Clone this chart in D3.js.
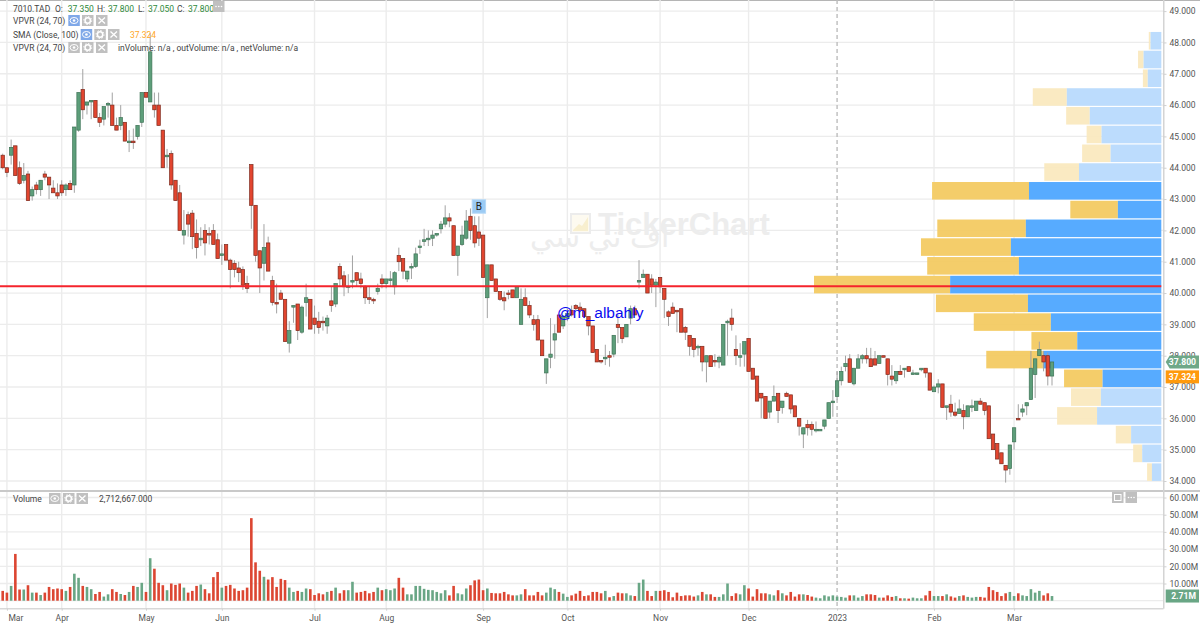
<!DOCTYPE html>
<html><head><meta charset="utf-8">
<style>html,body{margin:0;padding:0;background:#fff}svg{display:block}text{font-family:Roboto,sans-serif}</style>
<script src="https://cdn.jsdelivr.net/npm/d3@7"></script></head><body><div id="c"></div>
<script>
// [open, high, low, close]
const candles=[[44.4,44.45,43.95,44.0],[44.0,44.0,43.7,43.85],[44.4,44.9,44.1,44.65],[44.7,44.7,43.75,43.75],[44.0,44.2,43.45,43.5],[43.6,44.15,43.5,43.75],[43.8,43.9,42.95,42.95],[43.1,43.4,42.95,43.3],[43.45,43.55,43.15,43.3],[43.3,43.6,43.1,43.6],
[43.8,43.9,43.6,43.7],[43.7,43.7,43.0,43.45],[43.35,43.6,43.2,43.2],[43.2,43.5,43.0,43.1],[43.45,43.6,43.1,43.2],[43.3,43.5,43.1,43.45],[43.5,43.6,43.3,43.3],[43.45,45.3,43.2,45.3],[45.2,46.4,45.15,46.4],[46.5,47.15,45.55,45.85],
[46.0,46.1,45.7,46.1],[46.1,46.15,45.55,46.15],[46.15,46.15,45.6,45.6],[45.6,45.75,45.3,45.45],[45.55,45.95,45.35,45.95],[46.0,46.1,45.6,46.05],[46.0,46.4,45.35,45.35],[45.35,45.6,45.2,45.2],[45.35,46.0,45.2,45.6],[45.45,45.45,44.85,44.85],
[44.8,45.2,44.5,44.85],[44.85,45.25,44.6,44.8],[45.0,45.35,44.9,45.35],[45.45,46.4,45.3,46.4],[46.4,46.4,46.25,46.25],[46.1,48.3,46.1,47.7],[46.0,46.4,45.6,45.85],[46.0,46.4,45.35,45.35],[45.2,45.2,44.0,44.0],[44.35,44.6,44.0,44.4],
[44.45,44.55,43.3,43.45],[43.6,43.6,42.95,42.95],[43.2,43.45,42.0,42.0],[41.85,42.65,41.55,42.0],[42.5,42.6,41.8,42.2],[42.55,42.65,41.4,41.8],[41.9,42.35,41.1,41.45],[41.7,42.1,41.5,41.75],[42.0,42.2,41.2,41.6],[41.9,42.1,41.55,41.85],
[42.0,42.2,41.55,41.55],[41.7,41.9,41.1,41.1],[41.2,41.55,40.9,41.25],[41.55,41.55,41.05,41.05],[41.05,41.1,40.15,40.75],[40.95,41.05,40.5,40.75],[40.8,41.0,40.35,40.65],[40.75,40.85,40.1,40.25],[40.3,40.55,40.0,40.15],[44.1,44.1,42.05,42.8],
[42.8,42.8,41.0,41.2],[41.35,41.35,40.0,40.8],[40.95,42.2,40.4,41.45],[41.6,41.8,40.7,40.7],[40.4,40.55,39.6,39.7],[39.7,40.3,39.35,39.65],[40.0,40.1,39.8,39.8],[39.8,39.8,38.45,38.45],[38.4,39.1,38.1,38.8],[39.55,39.6,39.05,39.6],
[39.65,39.65,38.5,38.8],[38.75,39.6,38.7,39.55],[39.7,40.3,39.25,39.85],[39.8,39.8,38.85,38.85],[39.2,39.6,38.7,39.0],[39.1,39.4,38.7,38.9],[39.1,39.25,38.8,39.05],[38.95,39.3,38.7,39.2],[39.75,40.2,39.4,39.6],[39.65,40.3,39.55,40.3],
[40.85,40.95,40.2,40.45],[40.55,40.7,39.9,40.2],[40.2,40.6,40.0,40.2],[40.35,41.2,40.15,40.4],[40.65,40.65,40.2,40.4],[40.45,40.65,40.15,40.3],[40.2,40.25,39.65,39.85],[39.85,40.2,39.65,39.8],[39.8,39.85,39.65,39.75],[40.05,40.3,39.95,40.15],
[40.45,40.6,40.15,40.3],[40.3,40.45,40.15,40.45],[40.4,40.7,40.2,40.45],[40.2,40.7,39.95,40.65],[41.2,41.45,40.7,41.0],[41.1,41.1,40.45,40.7],[40.45,40.7,40.35,40.7],[40.8,40.95,40.45,40.85],[40.85,41.45,40.8,41.25],[41.45,41.7,41.25,41.5],
[41.65,42.05,41.5,41.7],[41.7,42.0,41.5,41.75],[41.75,42.0,41.5,41.85],[41.85,41.9,41.8,41.9],[42.05,42.3,41.9,42.2],[42.2,42.8,42.1,42.4],[42.4,42.55,42.1,42.3],[42.15,42.15,41.2,41.2],[41.2,41.5,40.55,41.5],[41.55,42.15,41.5,41.85],
[41.75,42.65,41.7,42.3],[42.45,42.7,41.7,42.0],[42.15,42.45,41.45,41.6],[41.95,42.45,41.5,41.75],[41.85,41.85,40.5,40.5],[39.85,40.9,39.2,40.9],[40.9,40.9,40.4,40.4],[40.45,40.45,40.05,40.05],[40.05,40.05,39.75,39.8],[39.85,40.05,39.45,39.75],
[40.0,40.1,39.8,39.95],[40.1,40.1,39.85,39.85],[39.85,40.2,39.85,40.2],[39.0,40.15,39.0,39.8],[39.85,40.15,39.6,39.6],[39.6,39.75,39.2,39.3],[39.15,39.3,38.8,39.0],[39.15,39.3,38.5,38.5],[38.5,38.5,38.0,38.0],[37.45,37.9,37.1,37.9],
[37.95,39.2,37.6,38.05],[38.5,39.0,37.9,38.7],[39.3,39.3,38.75,38.75],[38.95,39.3,38.85,39.25],[39.2,39.5,39.1,39.35],[39.45,39.6,39.25,39.3],[39.6,39.65,39.45,39.5],[39.55,39.7,39.4,39.45],[39.5,39.5,39.2,39.25],[39.25,39.25,38.65,38.95],
[38.95,38.95,38.1,38.1],[38.2,38.2,37.8,37.8],[37.85,37.85,37.75,37.8],[37.9,38.35,37.7,37.95],[38.0,38.15,37.65,37.95],[38.05,38.65,37.95,38.65],[39.0,39.3,38.4,38.9],[38.9,38.9,38.4,38.55],[38.6,39.0,38.6,39.0],[39.2,39.6,39.0,39.5],
[39.5,39.6,39.3,39.3],[40.35,41.05,40.15,40.4],[40.5,40.75,40.5,40.6],[40.6,40.6,40.0,40.0],[40.45,40.6,40.0,40.25],[40.25,40.45,39.55,40.35],[40.5,40.5,40.0,40.2],[40.15,40.15,39.2,39.8],[39.4,39.45,38.95,39.25],[39.55,39.7,39.35,39.35],
[39.45,39.45,38.75,39.4],[39.5,39.5,38.75,38.75],[38.9,38.95,38.5,38.75],[38.65,38.65,38.0,38.3],[38.55,38.55,37.95,38.2],[38.25,38.35,38.0,38.3],[38.3,38.3,37.5,37.8],[37.8,38.0,37.15,38.0],[38.0,38.0,37.65,37.65],[37.85,38.05,37.65,37.8],
[37.8,38.0,37.6,37.95],[37.7,39.0,37.7,39.0],[39.05,39.15,38.0,39.1],[39.2,39.5,38.8,39.0],[38.2,38.65,37.7,38.0],[37.95,38.4,37.65,38.0],[38.05,38.45,37.65,38.45],[38.55,38.55,37.5,37.5],[37.6,37.6,37.25,37.25],[37.35,37.35,36.55,36.55],
[36.8,36.8,36.0,36.65],[36.7,36.7,36.0,36.0],[36.2,36.55,36.0,36.55],[36.55,37.05,36.55,36.7],[36.8,36.8,35.85,36.25],[36.35,36.55,36.15,36.55],[36.8,36.85,36.7,36.7],[36.75,36.75,36.15,36.3],[36.4,36.4,36.05,36.05],[36.0,36.0,35.45,35.75],
[35.5,35.7,35.05,35.7],[35.8,35.95,35.45,35.7],[35.8,35.9,35.45,35.65],[35.6,35.9,35.55,35.65],[35.6,35.65,35.6,35.65],[35.75,35.95,35.65,35.95],[36.0,36.5,36.0,36.5],[36.5,36.9,36.05,36.55],[36.7,37.5,36.6,37.2],[37.2,37.65,37.05,37.5],
[37.65,38.0,37.5,37.75],[37.9,38.05,37.15,37.15],[37.1,37.6,37.05,37.6],[37.6,38.05,37.6,37.9],[37.9,38.05,37.75,38.0],[38.0,38.25,37.75,37.9],[37.9,38.25,37.65,37.65],[37.9,38.15,37.7,37.7],[37.75,38.0,37.75,38.0],[38.0,38.0,37.95,37.95],
[37.9,37.9,37.05,37.4],[37.35,37.7,37.05,37.25],[37.2,37.5,37.1,37.5],[37.5,37.7,37.4,37.4],[37.55,37.6,37.3,37.6],[37.65,37.65,37.5,37.5],[37.4,37.55,37.4,37.45],[37.4,37.45,37.4,37.45],[37.55,37.6,37.5,37.6],[37.6,37.6,37.3,37.45],
[37.45,37.45,36.9,36.9],[36.85,37.05,36.85,37.0],[37.0,37.25,36.8,37.1],[37.1,37.1,36.35,36.35],[36.35,36.4,35.95,36.4],[36.45,36.75,36.05,36.2],[36.2,36.5,36.05,36.1],[36.15,36.6,36.15,36.3],[36.25,36.45,35.65,36.05],[36.05,36.4,36.05,36.4],
[36.35,36.6,36.2,36.4],[36.25,36.55,36.25,36.55],[36.55,36.65,36.45,36.45],[36.5,36.5,36.1,36.25],[36.4,36.4,35.35,35.35],[35.5,35.5,35.0,35.0],[35.2,35.2,34.7,34.7],[34.9,34.9,34.55,34.55],[34.5,34.5,33.95,34.35],[34.4,35.15,34.2,35.15],
[35.25,35.7,35.0,35.7],[36.0,36.45,35.95,35.95],[36.2,36.45,36.05,36.3],[36.4,36.5,36.1,36.5],[36.6,38.15,36.6,37.6],[37.4,37.9,36.65,37.9],[38.0,38.45,38.0,38.2],[38.0,38.15,37.5,37.8],[38.0,38.1,37.05,37.35],[37.35,37.8,37.05,37.8]];

// volume in millions
const volumes=[5.7,4.7,8.6,27.2,6.5,6.5,9.0,4.7,4.7,3.3,4.7,8.0,6.7,7.1,6.7,5.7,8.0,15.7,13.3,8.6,8.0,6.7,3.9,5.1,2.4,3.7,6.7,5.1,3.9,3.3,5.1,8.6,8.0,10.4,5.1,24.7,18.6,10.4,9.0,6.1,10.0,9.2,10.0,7.6,4.7,5.7,8.6,9.4,6.7,4.3,13.7,16.7,7.6,8.6,9.2,7.1,5.7,6.1,7.6,48.0,22.3,17.4,13.9,12.3,13.7,8.0,12.7,12.0,7.6,5.1,5.7,5.1,7.1,6.7,3.3,4.3,3.7,5.1,5.7,7.6,4.3,6.1,6.1,11.0,4.7,5.1,5.7,4.3,5.1,7.6,6.1,6.7,6.1,7.1,13.3,7.6,3.7,3.7,8.6,8.6,
6.9,6.3,6.1,5.1,4.3,6.1,3.1,8.6,4.3,3.7,7.1,9.0,11.8,12.3,6.1,7.1,4.5,4.3,4.3,5.1,3.7,3.1,3.1,3.7,6.7,3.1,3.1,5.1,3.1,4.7,7.6,6.7,5.1,4.1,2.2,3.1,4.1,5.7,2.7,3.1,5.1,5.1,4.3,5.7,2.0,2.7,4.7,4.3,4.3,3.1,2.7,10.4,12.3,5.7,2.7,5.7,5.7,6.1,5.1,2.0,4.7,2.7,3.1,3.1,2.4,3.1,5.1,3.7,3.7,2.2,2.2,3.7,10.0,2.7,4.3,3.7,9.0,7.1,2.4,6.7,4.3,4.3,3.7,3.1,6.1,4.3,3.1,5.1,2.4,3.7,
3.7,3.3,2.4,1.8,1.4,3.1,2.5,3.1,2.4,2.2,1.8,3.1,3.1,1.8,2.7,3.7,3.7,3.3,1.8,1.8,3.1,2.2,2.7,1.4,1.4,1.2,1.8,1.4,1.4,3.1,5.7,2.7,2.7,2.7,3.7,2.5,1.8,2.7,3.1,2.2,1.8,2.2,2.2,1.8,8.0,6.1,5.1,2.7,4.3,5.1,2.7,4.3,3.1,2.7,6.7,4.7,5.7,3.1,4.3,2.71];

// volume profile, lowest price bin first (relative volume)
const profileIn=[2.7,5.5,8.7,18.5,17.4,16.9,34.1,24.2,31.8,38.4,60.8,41.0,43.3,39.0,12.5,38.1,23.7,14.6,17.2,20.6,27.2,3.9,5.1,3.1];
const profileOut=[1.4,2.6,4.4,11.5,8.6,11.1,16.3,13.2,22.2,26.5,39.2,26.4,25.9,25.5,13.7,27.9,10.0,8.2,4.3,6.8,9.8,1.4,1.6,0.5];
const profileLow=33.98, profileHigh=48.35;
const valueAreaFirst=5, valueAreaLast=15;

const priceTicks=[49,48,47,46,45,44,43,42,41,40,39,38,37,36,35,34];
const volumeTicks=[60,50,40,30,20,10];
const timeLabels=["Mar","Apr","May","Jun","Jul","Aug","Sep","Oct","Nov","Dec","2023","Feb","Mar"];
const timeIndex=[1,14,34,52,74,91,114,134,156,177,198,221,240];
const supportLevel=40.22, smaValue=37.324, lastClose=37.8, lastVolume=2.71, markIndex=113;

const W=1200,H=626,axisX=1163.5,plotRight=1161.3,divider=491,bottom=608.7;
const x=d3.scaleLinear().domain([0,249]).range([2.7,1052]);
const y=d3.scaleLinear().domain([34,49]).range([481,11.1]);
const yv=d3.scaleLinear().domain([0,60]).range([600.7,497.5]);
const xp=d3.scaleLinear().domain([0,100]).range([plotRight,plotRight-347.3]);
const yBin=d3.scaleLinear().domain([0,24]).range([y(profileLow),y(profileHigh)]);

const svg=d3.select("#c").append("svg").attr("width",W).attr("height",H);
const GRID="#ececec";

// top border
svg.append("rect").attr("width",W).attr("height",1).attr("fill","#b5b5b5");

// gridlines
svg.append("g").selectAll("line").data(priceTicks).join("line")
 .attr("x1",0).attr("x2",axisX).attr("y1",d=>y(d)).attr("y2",d=>y(d)).attr("stroke",GRID).attr("stroke-width",1.3);
svg.append("g").selectAll("line").data(volumeTicks.concat([0])).join("line")
 .attr("x1",0).attr("x2",axisX).attr("y1",d=>yv(d)).attr("y2",d=>yv(d)).attr("stroke",GRID).attr("stroke-width",1.3);
svg.append("g").selectAll("line").data(timeIndex).join("line")
 .attr("x1",d=>x(d)).attr("x2",d=>x(d)).attr("y1",0).attr("y2",bottom)
 .attr("stroke",(d,i)=>timeLabels[i]==="2023"?"#bdbdbd":GRID)
 .attr("stroke-width",1.4).attr("stroke-dasharray",(d,i)=>timeLabels[i]==="2023"?"4 3":null);

// watermark
const wm=svg.append("g").attr("fill","#ededed");
wm.append("text").attr("x",598).attr("y",235).attr("font-size",31).attr("font-weight",700).style("font-family","'Liberation Sans',sans-serif").text("TickerChart");
const arabicWords=["سي","تي","اف"],arabicX=[530,588,630];
arabicWords.forEach((w,i)=>wm.append("text").attr("x",arabicX[i]).attr("y",247).attr("font-size",30).style("font-family","'DejaVu Sans',sans-serif").text(w));
svg.append("rect").attr("x",571).attr("y",214).attr("width",19).attr("height",19).attr("fill","#fdfaf0").attr("stroke","#ececec").attr("stroke-width",2);
svg.append("path").attr("d",d3.line()([[573,230],[579,224],[582,226],[588,217],[588,231],[573,231]])).attr("fill","#f8efcf");

// volume profile
const prof=svg.append("g");
const active=i=>i>=valueAreaFirst&&i<=valueAreaLast;
prof.selectAll("rect.o").data(profileOut).join("rect").attr("class","o")
 .attr("x",(d,i)=>xp(profileIn[i]+d)).attr("width",(d,i)=>xp(profileIn[i])-xp(profileIn[i]+d))
 .attr("y",(d,i)=>yBin(i+1)+.5).attr("height",(d,i)=>yBin(i)-yBin(i+1)-1.2)
 .attr("fill",(d,i)=>active(i)?"#f3ca62":"#fae9bf").attr("fill-opacity",.95);
prof.selectAll("rect.i").data(profileIn).join("rect").attr("class","i")
 .attr("x",d=>xp(d)).attr("width",d=>plotRight-xp(d))
 .attr("y",(d,i)=>yBin(i+1)+.5).attr("height",(d,i)=>yBin(i)-yBin(i+1)-1.2)
 .attr("fill",(d,i)=>active(i)?"#52a8ff":"#badbfd").attr("fill-opacity",.97);

// candles
const RED="#e2452f",REDS="#7d2a1d",GRN="#5d9e7a",GRNS="#3d7355";
const up=d=>d[3]>=d[0];
const cg=svg.append("g");
cg.selectAll("line").data(candles).join("line")
 .attr("x1",(d,i)=>x(i)).attr("x2",(d,i)=>x(i)).attr("y1",d=>y(d[1])).attr("y2",d=>y(d[2]))
 .attr("stroke","#a3a3a3").attr("stroke-width",1);
cg.selectAll("rect").data(candles).join("rect")
 .attr("x",(d,i)=>x(i)-1.7).attr("width",3.4)
 .attr("y",d=>y(Math.max(d[0],d[3]))).attr("height",d=>Math.max(.6,Math.abs(y(d[0])-y(d[3]))))
 .attr("fill",d=>up(d)?GRN:RED).attr("stroke",d=>up(d)?GRNS:REDS).attr("stroke-width",.7);

// horizontal level
svg.append("line").attr("x1",0).attr("x2",plotRight).attr("y1",y(supportLevel)).attr("y2",y(supportLevel)).attr("stroke","#f5242c").attr("stroke-width",2);

// annotations
const bx=x(markIndex), by=y(candles[markIndex][1]);
svg.append("rect").attr("x",bx-6.7).attr("y",by-16.5).attr("width",13.4).attr("height",13.4).attr("fill","#9ccbf4").attr("stroke","#b4d8f7");
svg.append("text").attr("x",bx).attr("y",by-5.8).attr("text-anchor","middle").attr("font-size",10).attr("fill","#222").text("B");
svg.append("text").attr("x",557).attr("y",318).attr("font-size",15.5).attr("fill","#0a0af0").style("font-family","'Liberation Sans',sans-serif").text("@m_albahly");

// volume bars
svg.append("g").selectAll("rect").data(volumes).join("rect")
 .attr("x",(d,i)=>x(i)-1.3).attr("width",2.6).attr("y",d=>yv(d)).attr("height",d=>yv(0)-yv(d))
 .attr("fill",(d,i)=>up(candles[i])?"#69a685":"#dc4632");

// frame lines
svg.append("rect").attr("x",0).attr("y",divider-1).attr("width",W).attr("height",2).attr("fill","#c9c9c9");
svg.append("rect").attr("x",0).attr("y",bottom-.5).attr("width",axisX).attr("height",1.2).attr("fill","#cfcfcf");
svg.append("rect").attr("x",axisX-.5).attr("y",0).attr("width",1.5).attr("height",bottom).attr("fill","#d4d4d4");

// axes
const fs=8.5, tc="#555";
function styleAxis(g){g.select(".domain").remove();g.selectAll("line").attr("stroke","#d0d0d0");g.selectAll("text").attr("fill",tc).attr("font-size",fs);}
svg.append("g").attr("transform",`translate(${axisX},0)`).call(d3.axisRight(y).tickValues(priceTicks).tickFormat(d3.format(".3f")).tickSize(3).tickPadding(3)).call(styleAxis);
svg.append("g").attr("transform",`translate(${axisX},0)`).call(d3.axisRight(yv).tickValues(volumeTicks).tickFormat(d=>d3.format(".2f")(d)+"M").tickSize(3).tickPadding(3)).call(styleAxis);
const xa=svg.append("g").attr("transform",`translate(0,${bottom})`).call(d3.axisBottom(x).tickValues(timeIndex).tickFormat((d,i)=>timeLabels[i]).tickSize(2).tickPadding(4)).call(styleAxis);
xa.selectAll("g.tick text").filter((d,i)=>i===0).attr("text-anchor","start").attr("dx",1);

// price tags
function tag(val,fill,txt,arrow,yy){
 const h=13, l=1165.7, r=1199;
 if(arrow) svg.append("path").attr("d",`M${l},${yy}L${l+4},${yy-h/2}H${r}V${yy+h/2}H${l+4}Z`).attr("fill",fill);
 else svg.append("rect").attr("x",l).attr("y",yy-h/2).attr("width",r-l).attr("height",h).attr("fill",fill);
 svg.append("text").attr("x",r-3).attr("y",yy+3.1).attr("text-anchor","end").attr("font-size",8.6).attr("font-weight",700).attr("fill","#fff").text(txt);
}
tag(lastClose,"#6fa888",d3.format(".3f")(lastClose),true,y(lastClose));
tag(smaValue,"#ff9a0d",d3.format(".3f")(smaValue),false,y(smaValue));
tag(lastVolume,"#69a685",d3.format(".2f")(lastVolume)+"M",false,yv(lastVolume));

// legend
const leg=svg.append("g");
function t(xx,yy,s,c,fsz){return leg.append("text").attr("x",xx).attr("y",yy).attr("font-size",fsz||fs).attr("fill",c||"#444").text(s);}
const G="#2f8a3c";
t(13,11.5,"7010.TAD");
const ohlcLabels=["O:","H:","L:","C:"],ohlcLx=[55,97,138,177],ohlcVx=[67.7,108,148,188],ohlcVal=[37.35,37.8,37.05,37.8];
ohlcLabels.forEach((s,i)=>{t(ohlcLx[i],11.5,s);t(ohlcVx[i],11.5,d3.format(".3f")(ohlcVal[i]),G);});
t(13,24,"VPVR  (24, 70)");
t(13,38,"SMA  (Close, 100)");
t(130,38,"37.324","#ffa726");
t(13,51,"VPVR  (24, 70)");
t(118,51,"inVolume: n/a , outVolume: n/a , netVolume: n/a");
t(13,502,"Volume");
t(99,502,"2,712,667.000");

function btn(xx,yy,kind,fill){
 const g=svg.append("g").attr("transform",`translate(${xx},${yy})`);
 g.append("rect").attr("width",11.5).attr("height",11).attr("fill",fill);
 const c="#fff";
 if(kind==="eye"){g.append("ellipse").attr("cx",5.75).attr("cy",5.5).attr("rx",4).attr("ry",3).attr("fill","none").attr("stroke",c);g.append("circle").attr("cx",5.75).attr("cy",5.5).attr("r",1.3).attr("fill",c);}
 if(kind==="gear"){g.append("circle").attr("cx",5.75).attr("cy",5.5).attr("r",2.7).attr("fill","none").attr("stroke",c).attr("stroke-width",1.6);g.append("circle").attr("cx",5.75).attr("cy",5.5).attr("r",4).attr("fill","none").attr("stroke",c).attr("stroke-dasharray","1.5 1.6");}
 if(kind==="x"){g.append("path").attr("d","M2.5,2.5L9,8.5M9,2.5L2.5,8.5").attr("stroke",c).attr("stroke-width",1.3);}
 if(kind==="dots"){[3,5.75,8.5].forEach(a=>g.append("circle").attr("cx",a).attr("cy",5.5).attr("r",.8).attr("fill",c));}
 if(kind==="box"){g.append("rect").attr("x",2.5).attr("y",2.5).attr("width",6.5).attr("height",6).attr("fill","none").attr("stroke",c);}
}
const GB="#c0c0c0",BB="#7fa8e8";
btn(213,1,"dots",GB);
[[68.3,15,BB],[82,15,GB],[96,15,GB]].forEach((b,i)=>btn(b[0],b[1],["eye","gear","x"][i],b[2]));
[[80.7,29,BB],[94.3,29,GB],[108,29,GB]].forEach((b,i)=>btn(b[0],b[1],["eye","gear","x"][i],b[2]));
[[68.3,42,GB],[82,42,GB],[96,42,GB]].forEach((b,i)=>btn(b[0],b[1],["eye","gear","x"][i],b[2]));
[[49,493,GB],[63,493,GB],[76.5,493,GB]].forEach((b,i)=>btn(b[0],b[1],["eye","gear","x"][i],b[2]));
btn(1112,492,"box",GB);btn(1125.5,492,"dots",GB);
</script></body></html>
